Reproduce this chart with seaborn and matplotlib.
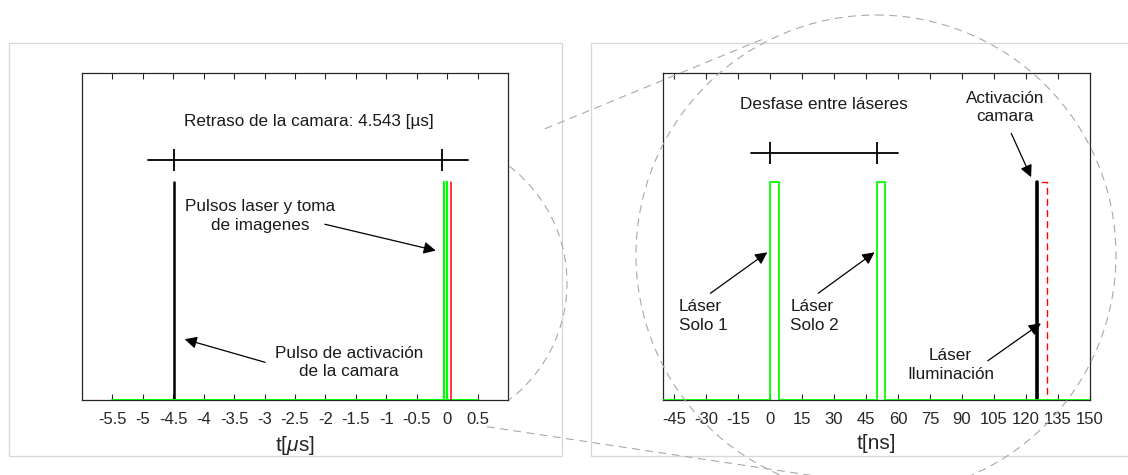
import numpy as np
import pandas as pd
import matplotlib
matplotlib.use("Agg")
import matplotlib.pyplot as plt
import seaborn as sns
from matplotlib.patches import Rectangle, Circle, Arc

# ---------------- data : microsecond view (left) ----------------
us_laser_t = [-5.5, -0.056, -0.056, -0.052, -0.052, -0.011, -0.011, -0.007, -0.007, 0.5]
us_laser_v = [0, 0, 1, 1, 0, 0, 1, 1, 0, 0]
us_cam_t = [-4.49, -4.49]
us_cam_v = [0, 1]
us_img_t = [0.06, 0.06]
us_img_v = [0, 1]
us_delay_line = [-4.91, 0.34]
us_delay_marks = [-4.49, -0.08]
us_delay_level = 1.104
us_ticks = [-5.5, -5, -4.5, -4, -3.5, -3, -2.5, -2, -1.5, -1, -0.5, 0, 0.5]
us_ticklabels = ["-5.5", "-5", "-4.5", "-4", "-3.5", "-3", "-2.5", "-2",
                 "-1.5", "-1", "-0.5", "0", "0.5"]

# ---------------- data : nanosecond view (right) ----------------
ns_laser_t = [-50, 0, 0, 4, 4, 50, 50, 54, 54, 150]
ns_laser_v = [0, 0, 1, 1, 0, 0, 1, 1, 0, 0]
ns_cam_t = [125, 125]
ns_cam_v = [0, 1]
ns_img_t = [125, 125, 130, 130]
ns_img_v = [0, 1, 1, 0]
ns_gap_line = [-9, 60]
ns_gap_marks = [0, 50]
ns_gap_level = 1.135
ns_ticks = [-45, -30, -15, 0, 15, 30, 45, 60, 75, 90, 105, 120, 135, 150]
ns_ticklabels = ["-45", "-30", "-15", "0", "15", "30", "45", "60", "75", "90",
                 "105", "120", "135", "150"]

sns.set_theme(style="white")
plt.rcParams["font.family"] = ["Liberation Sans", "DejaVu Sans"]
plt.rcParams["mathtext.fontset"] = "custom"
plt.rcParams["mathtext.rm"] = "Liberation Sans"
plt.rcParams["mathtext.it"] = "Liberation Sans:italic"
plt.rcParams["axes.unicode_minus"] = False

W, H = 1128, 475
fig = plt.figure(figsize=(W / 100, H / 100), dpi=100)
fig.patch.set_facecolor("white")

def px_rect(x0, x1, y0, y1):
    return [x0 / W, 1 - y1 / H, (x1 - x0) / W, (y1 - y0) / H]

axL = fig.add_axes(px_rect(81.7, 508.3, 73.3, 400))
axR = fig.add_axes(px_rect(663.3, 1090, 73.3, 400))

GREEN = "#00ff00"
RED = "#ff0000"
FS = 12.3
TXT = "#1a1a1a"

def style_axes(ax, xlim, ticks, labels, xlabel):
    ax.set_xlim(*xlim)
    ax.set_ylim(0, 1.5)
    ax.set_yticks([])
    ax.set_xticks(ticks)
    ax.set_xticklabels(labels)
    ax.tick_params(axis="x", direction="in", top=True, bottom=True, length=4,
                   width=0.8, color="#262626", labelsize=12, pad=9,
                   labelcolor="#262626")
    for s in ax.spines.values():
        s.set_visible(True)
        s.set_color("#262626")
        s.set_linewidth(0.9)
    ax.set_xlabel(xlabel, fontsize=15, labelpad=5, color="#262626")
    ax.set_ylabel("")
    ax.set_facecolor("white")

arrow = dict(arrowstyle="-|>", color="black", lw=0.9, mutation_scale=18,
             shrinkA=0, shrinkB=0)

# ---------- left panel ----------
sns.lineplot(x=us_cam_t, y=us_cam_v, ax=axL, color="black", lw=1.8,
             sort=False, estimator=None, zorder=3)
sns.lineplot(x=us_laser_t, y=us_laser_v, ax=axL, color=GREEN, lw=1.5,
             sort=False, estimator=None, zorder=4)
sns.lineplot(x=us_img_t, y=us_img_v, ax=axL, color=RED, lw=1.1,
             sort=False, estimator=None, zorder=4)
sns.lineplot(x=us_delay_line, y=[us_delay_level] * 2, ax=axL, color="black",
             lw=1.3, sort=False, estimator=None)
sns.scatterplot(x=us_delay_marks, y=[us_delay_level] * 2, ax=axL, marker="|",
                s=260, color="black", linewidth=1.3)
style_axes(axL, (-6, 1), us_ticks, us_ticklabels, r"t[$\mu$s]")

axL.text(-2.28, 1.278, "Retraso de la camara: 4.543 [µs]", ha="center",
         va="center", fontsize=FS, color=TXT)
axL.text(-3.07, 0.845, "Pulsos laser y toma\nde imagenes", ha="center",
         va="center", fontsize=FS, linespacing=1.3, color=TXT)
axL.annotate("", xy=(-0.19, 0.686), xytext=(-2.01, 0.807), arrowprops=arrow)
axL.text(-1.62, 0.172, "Pulso de activación\nde la camara", ha="center",
         va="center", fontsize=FS, linespacing=1.3, color=TXT)
axL.annotate("", xy=(-4.31, 0.279), xytext=(-2.99, 0.173), arrowprops=arrow)

# ---------- right panel ----------
sns.lineplot(x=ns_img_t, y=ns_img_v, ax=axR, color=RED, lw=1.0,
             sort=False, estimator=None, zorder=2, linestyle=(0, (5, 3)))
sns.lineplot(x=ns_cam_t, y=ns_cam_v, ax=axR, color="black", lw=2.6,
             sort=False, estimator=None, zorder=3)
sns.lineplot(x=ns_laser_t, y=ns_laser_v, ax=axR, color=GREEN, lw=1.3,
             sort=False, estimator=None, zorder=4)
sns.lineplot(x=ns_gap_line, y=[ns_gap_level] * 2, ax=axR, color="black",
             lw=1.3, sort=False, estimator=None)
sns.scatterplot(x=ns_gap_marks, y=[ns_gap_level] * 2, ax=axR, marker="|",
                s=260, color="black", linewidth=1.3)
style_axes(axR, (-50, 150), ns_ticks, ns_ticklabels, "t[ns]")

axR.text(25.3, 1.358, "Desfase entre láseres", ha="center", va="center",
         fontsize=FS, color=TXT)
axR.text(110.3, 1.343, "Activación\ncamara", ha="center", va="center",
         fontsize=FS, linespacing=1.3, color=TXT)
axR.annotate("", xy=(122.4, 1.023), xytext=(113.1, 1.224), arrowprops=arrow)
axR.text(-42.7, 0.386, "Láser\nSolo 1", ha="left", va="center", fontsize=FS,
         linespacing=1.3, color=TXT)
axR.annotate("", xy=(-1.25, 0.678), xytext=(-27.9, 0.49), arrowprops=arrow)
axR.text(9.5, 0.386, "Láser\nSolo 2", ha="left", va="center", fontsize=FS,
         linespacing=1.3, color=TXT)
axR.annotate("", xy=(49.0, 0.678), xytext=(22.6, 0.49), arrowprops=arrow)
axR.text(84.7, 0.161, "Láser\nIluminación", ha="center", va="center",
         fontsize=FS, linespacing=1.3, color=TXT)
axR.annotate("", xy=(127.0, 0.352), xytext=(102.1, 0.18), arrowprops=arrow)

# ---------- decorative overlay (frames, zoom circle, connectors) ----------
ov = fig.add_axes([0, 0, 1, 1], zorder=10)
ov.set_xlim(0, W)
ov.set_ylim(H, 0)
ov.axis("off")
ov.patch.set_alpha(0)
frame_c = "#d6d6d6"
ov.add_patch(Rectangle((9, 42.7), 553, 413.5, fill=False, ec=frame_c, lw=0.9))
ov.add_patch(Rectangle((591, 42.7), 560, 413.5, fill=False, ec=frame_c, lw=0.9))
dash_c = "#a8a8a8"
dash = (0, (7, 5))
ov.add_patch(Circle((876, 255), 240, fill=False, ec=dash_c, lw=0.8, ls=dash))
ov.add_patch(Arc((420, 283), 294, 294, theta1=-52.7, theta2=52.7,
                 ec=dash_c, lw=0.8, ls=dash))
ov.plot([545, 765], [128.8, 38.2], color=dash_c, lw=0.8, ls=dash)
ov.plot([487, 860], [426.7, 482.7], color=dash_c, lw=0.8, ls=dash)

fig.savefig("out.png", dpi=100, facecolor="white")
